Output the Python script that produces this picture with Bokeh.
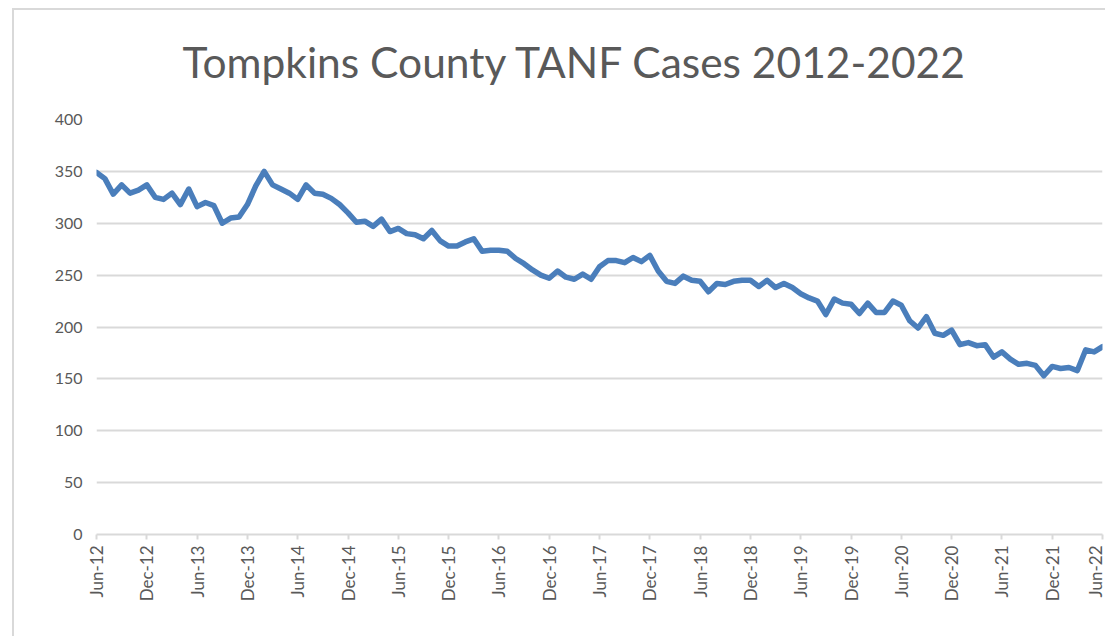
import math
from bokeh.plotting import figure
from bokeh.models import Range1d, FixedTicker
from bokeh.embed import file_html
from bokeh.resources import INLINE

# ---- data (monthly TANF cases, Jun-2012 .. Jun-2022) ----
cases = [
    349, 343, 328, 337, 329, 332, 337, 325, 323, 329, 318, 333,   # Jun-12 .. May-13
    316, 320, 317, 300, 305, 306, 318, 336, 350, 337, 333, 329,   # Jun-13 .. May-14
    323, 337, 329, 328, 324, 318, 310, 301, 302, 297, 304, 292,   # Jun-14 .. May-15
    295, 290, 289, 285, 293, 283, 278, 278, 282, 285, 273, 274,   # Jun-15 .. May-16
    274, 273, 266, 261, 255, 250, 247, 254, 248, 246, 251, 246,   # Jun-16 .. May-17
    258, 264, 264, 262, 267, 263, 269, 254, 244, 242, 249, 245,   # Jun-17 .. May-18
    244, 234, 242, 241, 244, 245, 245, 239, 245, 238, 242, 238,   # Jun-18 .. May-19
    232, 228, 225, 212, 227, 223, 222, 213, 223, 214, 214, 225,   # Jun-19 .. May-20
    221, 206, 199, 210, 194, 192, 197, 183, 185, 182, 183, 171,   # Jun-20 .. May-21
    176, 169, 164, 165, 163, 153, 162, 160, 161, 158, 178, 176,   # Jun-21 .. May-22
    181,                                                          # Jun-22
]
month_index = list(range(len(cases)))

tick_positions = [0, 6, 12, 18, 24, 30, 36, 42, 48, 54, 60, 66, 72, 78,
                  84, 90, 96, 102, 108, 114, 120]
tick_labels = ["Jun-12", "Dec-12", "Jun-13", "Dec-13", "Jun-14", "Dec-14",
               "Jun-15", "Dec-15", "Jun-16", "Dec-16", "Jun-17", "Dec-17",
               "Jun-18", "Dec-18", "Jun-19", "Dec-19", "Jun-20", "Dec-20",
               "Jun-21", "Dec-21", "Jun-22"]
y_ticks = [0, 50, 100, 150, 200, 250, 300, 350, 400]

TITLE = "Tompkins County TANF Cases 2012-2022"
FONT = "Lato"
TXT = "#595959"
GRID = "#d9d9d9"
LINE = "#4A7EBB"

p = figure(width=1105, height=636, output_backend="svg", toolbar_location=None,
           x_range=Range1d(0, 120), y_range=Range1d(0, 400),
           min_border_left=96, min_border_right=3, min_border_top=119,
           min_border_bottom=102)
# chart-area border (left and top edges) drawn behind a transparent canvas
p.styles = {
    "background": ("linear-gradient(#d9d9d9, #d9d9d9) 12px 8px / 2px 100% no-repeat, "
                   "linear-gradient(#d9d9d9, #d9d9d9) 12px 8px / 100% 2px no-repeat, "
                   "white"),
}
p.border_fill_alpha = 0
p.background_fill_color = "white"

p.title.text = TITLE
p.title.text_font = FONT
p.title.text_font_size = "42.5px"
p.title.text_font_style = "normal"
p.title.text_color = TXT
p.title.align = "left"
p.title.offset = 86
p.title.standoff = 65

p.outline_line_color = None

p.xgrid.grid_line_color = None
p.ygrid.grid_line_color = GRID
p.ygrid.grid_line_width = 2

p.line(month_index, cases, line_color=LINE, line_width=5.5, line_join="round",
       line_cap="round")

xa = p.xaxis[0]
xa.ticker = FixedTicker(ticks=tick_positions)
xa.major_label_overrides = {t: l for t, l in zip(tick_positions, tick_labels)}
xa.major_label_orientation = math.pi / 2
xa.axis_line_color = GRID
xa.axis_line_width = 2
xa.major_tick_line_color = GRID
xa.major_tick_line_width = 2
xa.major_tick_in = 0
xa.major_tick_out = 5
xa.minor_tick_line_color = None
xa.major_label_text_font = FONT
xa.major_label_text_font_size = "17px"
xa.major_label_text_color = TXT
xa.major_label_standoff = 6

ya = p.yaxis[0]
ya.ticker = FixedTicker(ticks=y_ticks)
ya.axis_line_color = None
ya.major_tick_line_color = None
ya.minor_tick_line_color = None
ya.major_tick_in = 0
ya.major_tick_out = 0
ya.major_label_text_font = FONT
ya.major_label_text_font_size = "16px"
ya.major_label_text_color = TXT
ya.major_label_standoff = 14

open("out.html", "w").write(file_html(p, INLINE))
